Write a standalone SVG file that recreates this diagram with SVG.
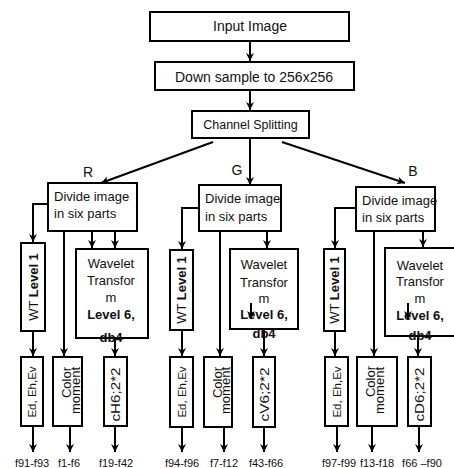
<svg xmlns="http://www.w3.org/2000/svg" width="454" height="468" viewBox="0 0 454 468">
  <defs>
    <marker id="arr" viewBox="0 0 10 10" refX="10" refY="5" markerWidth="10" markerHeight="8" markerUnits="userSpaceOnUse" orient="auto">
      <path d="M0,0 L10,5 L0,10 L3,5 z" fill="#000"/>
    </marker>
    <style>
      .box { fill: #fff; stroke: #000; stroke-width: 2; }
      .wire { fill: none; stroke: #000; stroke-width: 2; marker-end: url(#arr); }
      text { font-family: "Liberation Sans", Arial, sans-serif; fill: #111; }
      .t14 { font-size: 14px; text-anchor: middle; }
      .t13 { font-size: 13px; }
      .mid { text-anchor: middle; }
      .b { font-weight: bold; }
      .lbl { font-size: 11px; text-anchor: middle; }
    </style>
  </defs>
  <rect width="454" height="468" fill="#fff"/>

  <!-- connectors -->
  <g id="connectors">
    <path class="wire" d="M250,41 V61"/>
    <path class="wire" d="M250,90 V110"/>
    <path class="wire" d="M213,142 L101,183"/>
    <path class="wire" d="M250,138 V185"/>
    <path class="wire" d="M282,142 L405,183"/>
    <!-- R -->
    <path class="wire" d="M48,204 H33 V242"/>
    <path class="wire" d="M64,231 V356"/>
    <path class="wire" d="M92,231 V248"/>
    <path class="wire" d="M115,231 V248"/>
    <path class="wire" d="M33,331 V356"/>
    <path class="wire" d="M115,338 V356"/>
    <path class="wire" d="M33,426 V452"/>
    <path class="wire" d="M70,426 V452"/>
    <path class="wire" d="M115,426 V452"/>
    <!-- G -->
    <path class="wire" d="M199,208 H182 V249"/>
    <path class="wire" d="M220,231 V356"/>
    <path class="wire" d="M267,231 V248"/>
    <path class="wire" d="M182,330 V356"/>
    <path class="wire" d="M264,329 V356"/>
    <path class="wire" d="M182,427 V452"/>
    <path class="wire" d="M224,427 V452"/>
    <path class="wire" d="M264,427 V452"/>
    <!-- B -->
    <path class="wire" d="M356,208 H335 V248"/>
    <path class="wire" d="M374,231 V356"/>
    <path class="wire" d="M423,231 V247"/>
    <path class="wire" d="M335,331 V356"/>
    <path class="wire" d="M418,336 V356"/>
    <path class="wire" d="M337,426 V452"/>
    <path class="wire" d="M372,426 V452"/>
    <path class="wire" d="M419,426 V452"/>
  </g>

  <!-- top chain -->
  <g id="input">
    <rect class="box" x="150" y="12" width="199" height="29"/>
    <text class="t14" x="250" y="31">Input Image</text>
  </g>
  <g id="downsample">
    <rect class="box" x="155" y="62" width="199" height="28"/>
    <text class="t14" x="254" y="81.5" font-size="13.5">Down sample to 256x256</text>
  </g>
  <g id="split">
    <rect class="box" x="192" y="111" width="117" height="27"/>
    <text x="250.5" y="129" font-size="12.5" text-anchor="middle">Channel Splitting</text>
  </g>
  <g id="channel-labels">
    <text class="t14" x="88" y="177">R</text>
    <text class="t14" x="237" y="175">G</text>
    <text class="t14" x="413" y="176">B</text>
  </g>

  <!-- R branch -->
  <g id="r-divide">
    <rect class="box" x="48" y="183" width="89" height="48"/>
    <text class="t13" x="54" y="201">Divide image</text>
    <text class="t13" x="54" y="218">in six parts</text>
  </g>
  <g id="r-wt">
    <rect class="box" x="21" y="243" width="24" height="88"/>
    <text class="t13 mid" transform="translate(37.5,287) rotate(-90)">WT <tspan class="b">Level 1</tspan></text>
  </g>
  <g id="r-wavelet">
    <rect class="box" x="76" y="249" width="72" height="89"/>
    <text class="t13 mid" x="111" y="267.5">Wavelet</text>
    <text class="t13 mid" x="111" y="285">Transfor</text>
    <text class="t13 mid" x="111" y="302">m</text>
    <text class="t13 mid b" x="111" y="318.5">Level 6,</text>
    <text class="t13 mid b" x="111" y="342">db4</text>
  </g>
  <g id="r-ed">
    <rect class="box" x="21" y="357" width="22" height="69"/>
    <text class="mid" font-size="11.5" transform="translate(36,392) rotate(-90)">Ed, Eh,Ev</text>
  </g>
  <g id="r-color">
    <rect class="box" x="53" y="357" width="29" height="69"/>
    <text class="t13" text-anchor="end" transform="translate(70.5,367) rotate(-90)">Color</text>
    <text class="t13" text-anchor="end" transform="translate(80,367) rotate(-90)">moment</text>
  </g>
  <g id="r-ch">
    <rect class="box" x="104" y="357" width="23" height="69"/>
    <text class="t13 mid" textLength="54" lengthAdjust="spacingAndGlyphs" transform="translate(120,394.5) rotate(-90)">cH6;2*2</text>
  </g>

  <!-- G branch -->
  <g id="g-divide">
    <rect class="box" x="199" y="185" width="82" height="46"/>
    <text class="t13" x="205" y="203">Divide image</text>
    <text class="t13" x="205" y="220.5">in six parts</text>
  </g>
  <g id="g-wt">
    <rect class="box" x="170" y="250" width="23" height="80"/>
    <text class="t13 mid" transform="translate(186,290) rotate(-90)">WT <tspan class="b">Level 1</tspan></text>
  </g>
  <g id="g-wavelet">
    <rect class="box" x="230" y="249" width="68" height="80"/>
    <text class="t13 mid" x="264" y="268.5">Wavelet</text>
    <text class="t13 mid" x="264" y="286.5">Transfor</text>
    <text class="t13 mid" x="264" y="302.5">m</text>
    <text class="t13 mid b" x="264" y="318.5">Level 6,</text>
    <text class="t13 mid b" x="264" y="338">db4</text>
    <path class="wire" d="M251,303 V319"/>
  </g>
  <g id="g-ed">
    <rect class="box" x="170" y="357" width="23" height="70"/>
    <text class="mid" font-size="11.5" transform="translate(185.5,392) rotate(-90)">Ed, Eh,Ev</text>
  </g>
  <g id="g-color">
    <rect class="box" x="204" y="357" width="28" height="70"/>
    <text class="t13" text-anchor="end" transform="translate(221.5,367) rotate(-90)">Color</text>
    <text class="t13" text-anchor="end" transform="translate(230,367) rotate(-90)">moment</text>
  </g>
  <g id="g-cv">
    <rect class="box" x="253" y="357" width="22" height="70"/>
    <text class="t13 mid" textLength="54" lengthAdjust="spacingAndGlyphs" transform="translate(268.5,394.5) rotate(-90)">cV6;2*2</text>
  </g>

  <!-- B branch -->
  <g id="b-divide">
    <rect class="box" x="356" y="187" width="79" height="44"/>
    <text class="t13" x="362" y="205">Divide image</text>
    <text class="t13" x="362" y="222">in six parts</text>
  </g>
  <g id="b-wt">
    <rect class="box" x="324" y="249" width="21" height="82"/>
    <text class="t13 mid" transform="translate(339,290) rotate(-90)">WT <tspan class="b">Level 1</tspan></text>
  </g>
  <g id="b-wavelet">
    <rect class="box" x="385" y="248" width="74" height="88"/>
    <text class="t13 mid" x="420" y="269.5">Wavelet</text>
    <text class="t13 mid" x="420" y="285.5">Transfor</text>
    <text class="t13 mid" x="420" y="302.5">m</text>
    <text class="t13 mid b" x="420" y="319.5">Level 6,</text>
    <text class="t13 mid b" x="420" y="340">db4</text>
    <path class="wire" d="M408,303 V319"/>
  </g>
  <g id="b-ed">
    <rect class="box" x="325" y="357" width="23" height="69"/>
    <text class="mid" font-size="11.5" transform="translate(341,392) rotate(-90)">Ed, Eh,Ev</text>
  </g>
  <g id="b-color">
    <rect class="box" x="357" y="357" width="40" height="69"/>
    <text class="t13" text-anchor="end" transform="translate(374.5,366) rotate(-90)">Color</text>
    <text class="t13" text-anchor="end" transform="translate(384,367) rotate(-90)">moment</text>
  </g>
  <g id="b-cd">
    <rect class="box" x="408" y="357" width="23" height="69"/>
    <text class="t13 mid" textLength="54" lengthAdjust="spacingAndGlyphs" transform="translate(424,394.5) rotate(-90)">cD6;2*2</text>
  </g>

  <!-- feature index labels -->
  <g id="feature-labels">
    <text class="lbl" x="32" y="467">f91-f93</text>
    <text class="lbl" x="69" y="467">f1-f6</text>
    <text class="lbl" x="116" y="467">f19-f42</text>
    <text class="lbl" x="182" y="467">f94-f96</text>
    <text class="lbl" x="224" y="467">f7-f12</text>
    <text class="lbl" x="266" y="467">f43-f66</text>
    <text class="lbl" x="339" y="467">f97-f99</text>
    <text class="lbl" x="377" y="467">f13-f18</text>
    <text class="lbl" x="422" y="467">f66 –f90</text>
  </g>
</svg>
